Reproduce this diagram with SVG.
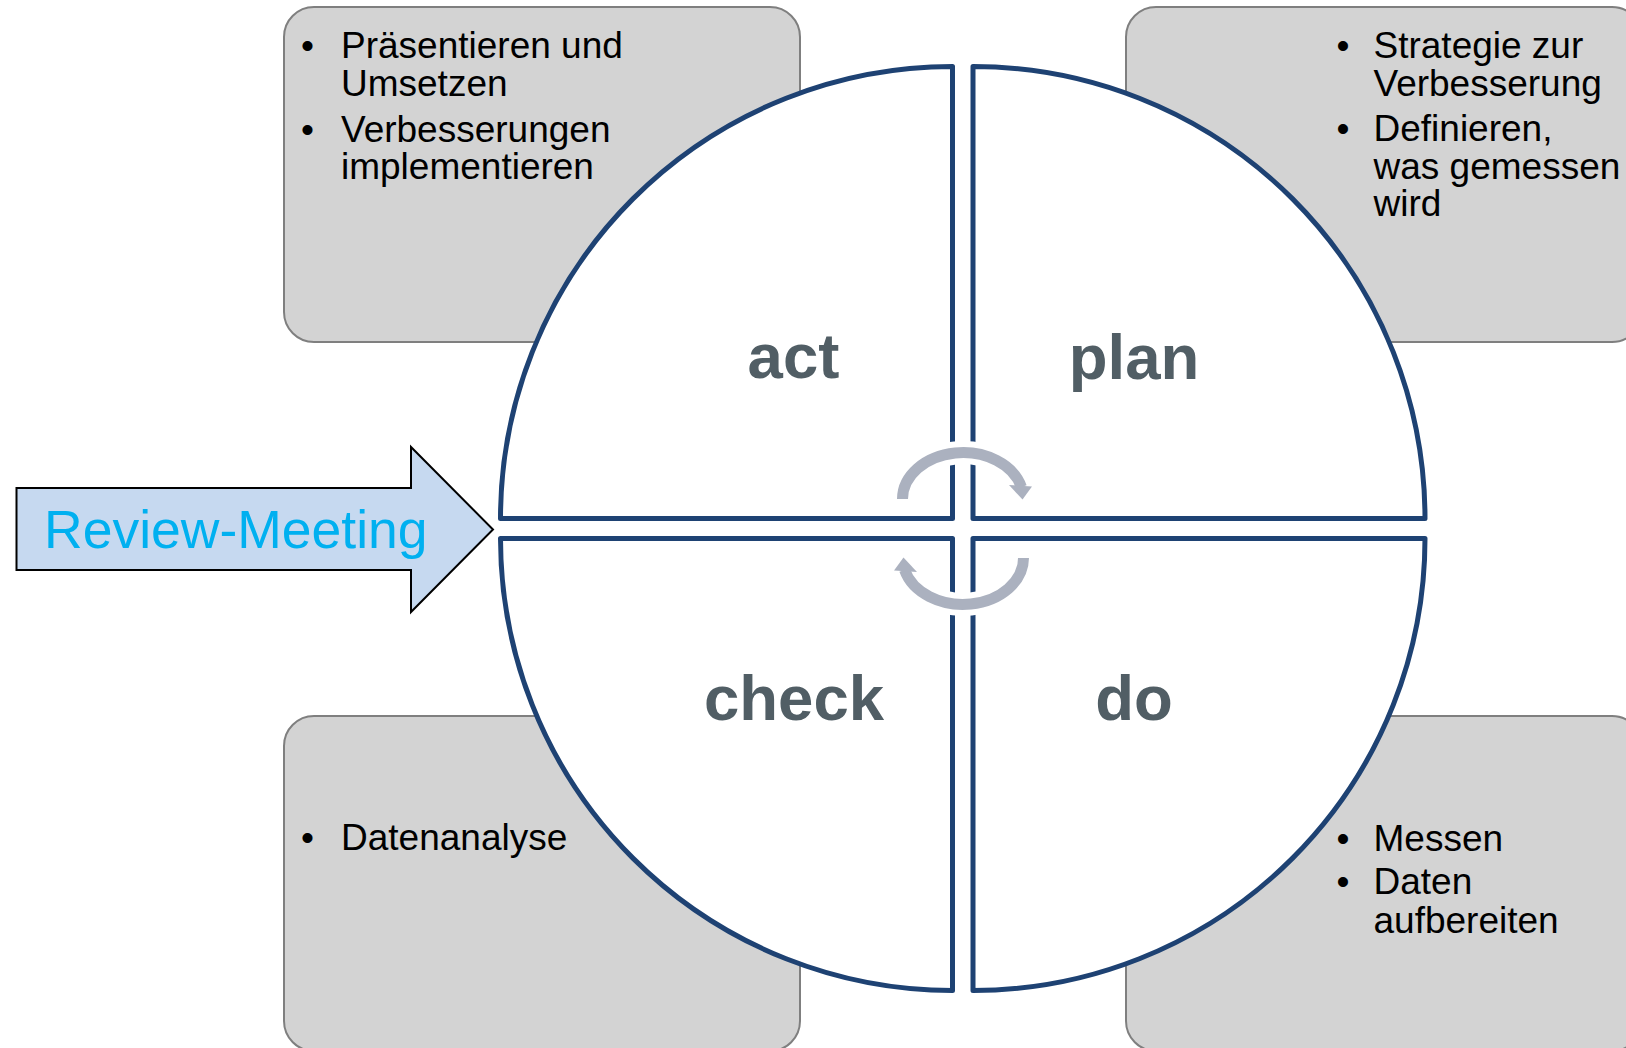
<svg xmlns="http://www.w3.org/2000/svg" width="1626" height="1048" viewBox="0 0 1626 1048">
  <style>
    .box { fill: #d3d3d3; stroke: #7f7f7f; stroke-width: 2; }
    .bullet { font-family: "Liberation Sans", Arial, sans-serif; font-size: 37px; fill: #000000; }
    .quad { fill: #ffffff; stroke: #1e4273; stroke-width: 5; stroke-linejoin: round; }
    .phase { font-family: "Liberation Sans", Arial, sans-serif; font-size: 63.5px; font-weight: bold; fill: #515e65; text-anchor: middle; }
    .cyc { fill: none; stroke: #abb1bf; stroke-width: 11; }
    .cyc-halo { fill: none; stroke: #ffffff; stroke-width: 23; }
    .cyc-head { fill: #abb1bf; }
  </style>

  <rect width="1626" height="1048" fill="#ffffff"/>

  <!-- Corner boxes with task lists -->
  <g id="box-act">
    <rect class="box" x="284" y="7" width="516" height="335" rx="30" ry="30"/>
    <text class="bullet" x="301" y="58">•</text>
    <text class="bullet" x="341" y="58">Präsentieren und</text>
    <text class="bullet" x="341" y="96">Umsetzen</text>
    <text class="bullet" x="301" y="142">•</text>
    <text class="bullet" x="341" y="142">Verbesserungen</text>
    <text class="bullet" x="341" y="179">implementieren</text>
  </g>

  <g id="box-plan">
    <rect class="box" x="1126" y="7" width="516" height="335" rx="30" ry="30"/>
    <text class="bullet" x="1336.5" y="58">•</text>
    <text class="bullet" x="1373.5" y="58">Strategie zur</text>
    <text class="bullet" x="1373.5" y="96">Verbesserung</text>
    <text class="bullet" x="1336.5" y="141">•</text>
    <text class="bullet" x="1373.5" y="141">Definieren,</text>
    <text class="bullet" x="1373.5" y="179">was gemessen</text>
    <text class="bullet" x="1373.5" y="216">wird</text>
  </g>

  <g id="box-check">
    <rect class="box" x="284" y="716" width="516" height="335" rx="30" ry="30"/>
    <text class="bullet" x="301" y="850">•</text>
    <text class="bullet" x="341" y="850">Datenanalyse</text>
  </g>

  <g id="box-do">
    <rect class="box" x="1126" y="716" width="516" height="335" rx="30" ry="30"/>
    <text class="bullet" x="1336.5" y="851">•</text>
    <text class="bullet" x="1373.5" y="851">Messen</text>
    <text class="bullet" x="1336.5" y="894">•</text>
    <text class="bullet" x="1373.5" y="894">Daten</text>
    <text class="bullet" x="1373.5" y="933">aufbereiten</text>
  </g>

  <!-- PDCA circle, split into four quadrants -->
  <g id="quad-act">
    <path class="quad" d="M 952.5 518.5 L 500.5 518.5 A 452 452 0 0 1 952.5 66.5 Z"/>
    <text class="phase" x="793.5" y="378">act</text>
  </g>
  <g id="quad-plan">
    <path class="quad" d="M 973 518.5 L 973 66.5 A 452 452 0 0 1 1425 518.5 Z"/>
    <text class="phase" x="1134" y="379">plan</text>
  </g>
  <g id="quad-check">
    <path class="quad" d="M 952.5 538.5 L 952.5 990.5 A 452 452 0 0 1 500.5 538.5 Z"/>
    <text class="phase" x="794" y="720">check</text>
  </g>
  <g id="quad-do">
    <path class="quad" d="M 973 538.5 L 1425 538.5 A 452 452 0 0 1 973 990.5 Z"/>
    <text class="phase" x="1134" y="720">do</text>
  </g>

  <!-- Entry arrow -->
  <g id="review-meeting">
    <polygon points="16.5,488 411,488 411,447 493,529.5 411,612 411,570 16.5,570" fill="#c6d9f0" stroke="#000000" stroke-width="2" stroke-linejoin="miter"/>
    <text x="44" y="548" font-family="'Liberation Sans', Arial, sans-serif" font-size="53.5" fill="#00b0f0">Review-Meeting</text>
  </g>

  <!-- Cycle arrows in the centre -->
  <g id="connectors">
    <g id="cycle-upper">
      <path class="cyc-halo" d="M 902.5 499 A 60.5 46.5 0 0 1 1021.4 487"/>
      <path class="cyc" d="M 902.5 499 A 60.5 46.5 0 0 1 1021.4 487"/>
      <polygon class="cyc-head" points="1009,485 1032,486.5 1022.5,499.5"/>
    </g>
    <g id="cycle-lower" transform="rotate(180 963 528.5)">
      <path class="cyc-halo" d="M 902.5 499 A 60.5 46.5 0 0 1 1021.4 487"/>
      <path class="cyc" d="M 902.5 499 A 60.5 46.5 0 0 1 1021.4 487"/>
      <polygon class="cyc-head" points="1009,485 1032,486.5 1022.5,499.5"/>
    </g>
  </g>
</svg>
